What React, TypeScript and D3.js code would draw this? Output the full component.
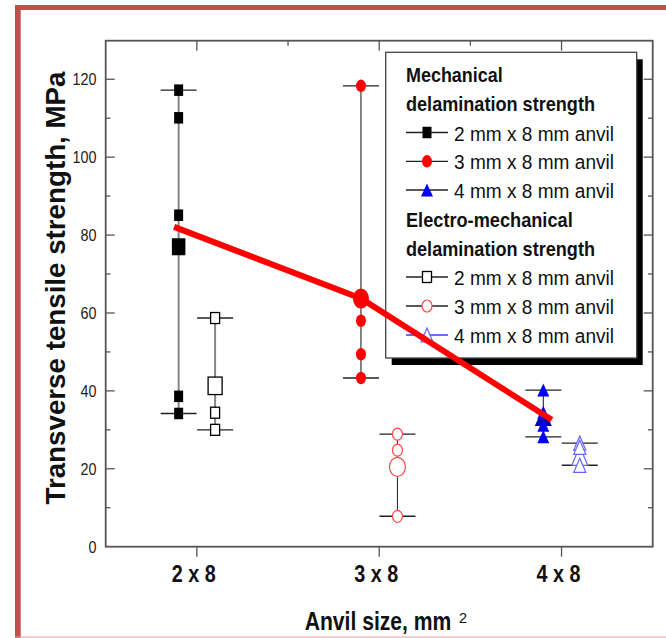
import React from "react";
import * as d3 from "d3";

// Anvil sizes (mm x 8 mm) shown on the x axis
const categories = ["2 x 8", "3 x 8", "4 x 8"];
const anvilWidth = [2, 3, 4];

// Mechanical delamination strength (MPa), individual specimens and averages
const mechValues = [
  [117.2, 110.1, 85.1, 38.6, 34.2],
  [118.3, 58.0, 49.4, 43.3],
  [40.2, 34.5, 31.2, 28.2],
];
const mechMeans = [77.0, 63.7, 33.4];

// Electro-mechanical delamination strength (MPa)
const electroValues = [
  [58.7, 34.4, 30.0],
  [28.9, 24.8, 7.8],
  [26.6, 25.5, 20.9],
];
const electroMeans = [41.3, 20.5, 23.3];

// Trend of the mechanical averages
const trendX = [1.875, 2.9, 3.946];
const trendY = [82.1, 63.7, 32.6];

const yTicks = [0, 20, 40, 60, 80, 100, 120];
const yMinorTicks = [10, 30, 50, 70, 90, 110];
const xMinorTicks = [2.5, 3.5];

const legendHeaders = ["Mechanical", "delamination strength", "Electro-mechanical", "delamination strength"];
const legendLabels = [
  "2 mm x 8 mm anvil",
  "3 mm x 8 mm anvil",
  "4 mm x 8 mm anvil",
  "2 mm x 8 mm anvil",
  "3 mm x 8 mm anvil",
  "4 mm x 8 mm anvil",
];

const FONT = "'Liberation Sans', Arial, Helvetica, sans-serif";

type Kind = "square" | "circle" | "triangle";
interface Style {
  kind: Kind;
  fill: string;
  bigFill?: string;
  stroke: string;
  sw: number;
  small: [number, number];
  big: [number, number];
  rangeColor: string;
  rangeWidth: number;
  offset: number;
}

const mechStyles: Style[] = [
  { kind: "square", fill: "#000", stroke: "#000", sw: 0, small: [9, 11.5], big: [13.5, 17], rangeColor: "#858585", rangeWidth: 2, offset: -0.1 },
  { kind: "circle", fill: "#ff0000", stroke: "#ff0000", sw: 0, small: [10, 12.5], big: [16, 20], rangeColor: "#111", rangeWidth: 1, offset: -0.1 },
  { kind: "triangle", fill: "#0000ff", bigFill: "#0000b0", stroke: "#0000ff", sw: 0, small: [12, 13], big: [17, 19], rangeColor: "#111", rangeWidth: 1, offset: -0.1 },
];
const electroStyles: Style[] = [
  { kind: "square", fill: "#fff", stroke: "#000", sw: 1.3, small: [9, 11], big: [14, 17.5], rangeColor: "#858585", rangeWidth: 2, offset: 0.1 },
  { kind: "circle", fill: "#fff", stroke: "#ff4a4a", sw: 1.2, small: [10, 12], big: [16, 19], rangeColor: "#222", rangeWidth: 1, offset: 0.1 },
  { kind: "triangle", fill: "#fff", stroke: "#6464ff", sw: 1.2, small: [12, 14], big: [16, 19], rangeColor: "#222", rangeWidth: 1, offset: 0.1 },
];

function Marker({ cx, cy, w, h, kind, fill, stroke, sw }: { cx: number; cy: number; w: number; h: number; kind: Kind; fill: string; stroke: string; sw: number }) {
  if (kind === "square") {
    return <rect x={cx - w / 2} y={cy - h / 2} width={w} height={h} fill={fill} stroke={sw ? stroke : "none"} strokeWidth={sw} />;
  }
  if (kind === "circle") {
    return <ellipse cx={cx} cy={cy} rx={w / 2} ry={h / 2} fill={fill} stroke={sw ? stroke : "none"} strokeWidth={sw} />;
  }
  const p = `M${cx},${cy - h / 2}L${cx + w / 2},${cy + h / 2}L${cx - w / 2},${cy + h / 2}Z`;
  return <path d={p} fill={fill} stroke={sw ? stroke : "none"} strokeWidth={sw} />;
}

export default function App() {
  const W = 666;
  const H = 638;
  const left = 105.7, right = 652.7, top = 40.7, bottom = 546.7;
  const x = d3.scaleLinear().domain([1.5, 4.5]).range([left, right]);
  const y = d3.scaleLinear().domain([0, 130]).range([bottom, bottom - 130 * 3.8954]);

  const trendLine = d3.line<number>().x((_, i) => x(trendX[i])).y((d) => y(d))(trendY) || "";

  const renderGroup = (values: number[][], means: number[], styles: Style[], key: string) =>
    values.map((vals, i) => {
      const s = styles[i];
      const cx = x(anvilWidth[i] + s.offset);
      const lo = d3.min(vals)!;
      const hi = d3.max(vals)!;
      return (
        <g key={key + i}>
          <line x1={cx} x2={cx} y1={y(lo)} y2={y(hi)} stroke={s.rangeColor} strokeWidth={s.rangeWidth} />
          {[lo, hi].map((v, j) => (
            <line key={j} x1={cx - 18} x2={cx + 18} y1={y(v)} y2={y(v)} stroke="#222" strokeWidth={1.4} />
          ))}
          <Marker cx={cx} cy={y(means[i])} w={s.big[0]} h={s.big[1]} kind={s.kind} fill={s.bigFill || s.fill} stroke={s.stroke} sw={s.sw} />
          {vals.map((v, j) => (
            <Marker key={j} cx={cx} cy={y(v)} w={s.small[0]} h={s.small[1]} kind={s.kind} fill={s.fill} stroke={s.stroke} sw={s.sw} />
          ))}
        </g>
      );
    });

  // legend geometry
  const lgX = 385.7, lgY = 52.3, lgW = 251, lgH = 305.7;
  const rowBase = [81.7, 110.7, 140.5, 169.3, 198, 227, 256, 285, 314, 343];
  const headerRows = [0, 1, 5, 6];
  const headerWidths = [96.7, 189, 166.7, 189];
  const entryRows = [2, 3, 4, 7, 8, 9];
  const entryStyles = [...mechStyles, ...electroStyles];
  const entryLineColors = ["#222", "#222", "#222", "#222", "#222", "#3a3aff"];

  return (
    <svg width={W} height={H} style={{ position: "absolute", left: 0, top: 0, background: "#fff" }} fontFamily={FONT}>
      <rect x={0} y={0} width={W} height={H} fill="#fff" />
      {/* page frame */}
      <rect x={15} y={5} width={W - 15} height={5} fill="#c0504d" />
      <rect x={15} y={5} width={5.7} height={H - 5} fill="#c0504d" />
      <line x1={15} x2={W} y1={637} y2={637} stroke="#e3a3a1" strokeWidth={1.2} />

      {/* axes box */}
      <rect x={left} y={top} width={right - left} height={bottom - top} fill="none" stroke="#555" strokeWidth={1.8} />
      {yTicks.map((t) => (
        <g key={"yt" + t}>
          {t > 0 && <line x1={left} x2={left + 9} y1={y(t)} y2={y(t)} stroke="#555" strokeWidth={1.3} />}
          {t > 0 && <line x1={right} x2={right - 9} y1={y(t)} y2={y(t)} stroke="#555" strokeWidth={1.3} />}
          <text x={96.5} y={y(t) + 5.8} textAnchor="end" fontSize={16.3} fill="#222" textLength={String(t).length * 8} lengthAdjust="spacingAndGlyphs">
            {t}
          </text>
        </g>
      ))}
      {yMinorTicks.map((t) => (
        <g key={"ym" + t}>
          <line x1={left} x2={left + 4.7} y1={y(t)} y2={y(t)} stroke="#555" strokeWidth={1.3} />
          <line x1={right} x2={right - 4.7} y1={y(t)} y2={y(t)} stroke="#555" strokeWidth={1.3} />
        </g>
      ))}
      {anvilWidth.map((a, i) => (
        <g key={"xt" + a}>
          <line x1={x(a)} x2={x(a)} y1={bottom} y2={bottom + 10} stroke="#555" strokeWidth={1.3} />
          <line x1={x(a)} x2={x(a)} y1={top} y2={top + 10} stroke="#555" strokeWidth={1.3} />
          <text x={x(a) - 3} y={582} textAnchor="middle" fontSize={23} fontWeight="bold" fill="#111" textLength={44} lengthAdjust="spacingAndGlyphs">
            {categories[i]}
          </text>
        </g>
      ))}
      {xMinorTicks.map((t) => (
        <line key={"xm" + t} x1={x(t)} x2={x(t)} y1={top} y2={top + 5} stroke="#555" strokeWidth={1.3} />
      ))}

      {/* axis titles */}
      <text transform="translate(304.7,630) scale(0.845,1)" fontSize={25} fontWeight="bold" fill="#111">
        Anvil size, mm
      </text>
      <text x={459} y={623} fontSize={14.5} fill="#111">
        2
      </text>
      <text
        transform="translate(65,288) rotate(-90)"
        textAnchor="middle"
        fontSize={28}
        fontWeight="bold"
        fill="#111"
        textLength={433}
        lengthAdjust="spacingAndGlyphs"
      >
        Transverse tensile strength, MPa
      </text>

      {/* data */}
      {renderGroup(mechValues, mechMeans, mechStyles, "m")}
      {renderGroup(electroValues, electroMeans, electroStyles, "e")}

      {/* legend */}
      <rect x={lgX + 6} y={lgY + 7} width={lgW} height={lgH} fill="#000" />
      <rect x={lgX} y={lgY} width={lgW} height={lgH} fill="#fff" stroke="#444" strokeWidth={1.3} />
      {headerRows.map((r, i) => (
        <text key={"lh" + i} x={406} y={rowBase[r]} fontSize={21} fontWeight="bold" fill="#111" textLength={headerWidths[i]} lengthAdjust="spacingAndGlyphs">
          {legendHeaders[i]}
        </text>
      ))}
      {entryRows.map((r, i) => {
        const s = entryStyles[i];
        const cy = rowBase[r] - 8;
        return (
          <g key={"le" + i}>
            <line x1={406} x2={448} y1={cy} y2={cy} stroke={entryLineColors[i]} strokeWidth={1.3} />
            <Marker cx={427} cy={cy} w={s.small[0]} h={s.small[1]} kind={s.kind} fill={s.fill} stroke={s.stroke} sw={s.sw} />
            <text x={454} y={rowBase[r]} fontSize={20} fill="#111" textLength={160} lengthAdjust="spacingAndGlyphs">
              {legendLabels[i]}
            </text>
          </g>
        );
      })}

      {/* trend of averages */}
      <path d={trendLine} fill="none" stroke="#ff0000" strokeWidth={6} />
    </svg>
  );
}
